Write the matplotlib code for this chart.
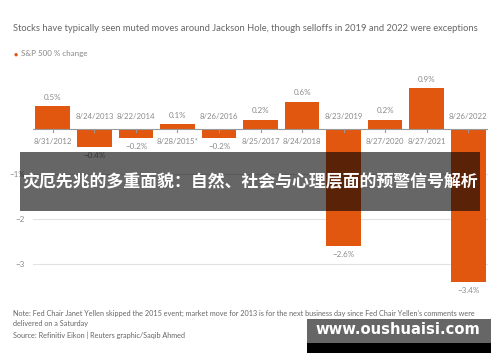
import matplotlib
matplotlib.use("Agg")
import matplotlib.pyplot as plt
from matplotlib.patches import Rectangle

dates = ["8/31/2012", "8/24/2013", "8/22/2014", "8/28/2015*", "8/26/2016",
         "8/25/2017", "8/24/2018", "8/23/2019", "8/27/2020", "8/27/2021", "8/26/2022"]
changes = [0.5, -0.4, -0.2, 0.1, -0.2, 0.2, 0.6, -2.6, 0.2, 0.9, -3.4]
value_labels = ["0.5%", "\u22120.4%", "\u22120.2%", "0.1%", "\u22120.2%", "0.2%",
                "0.6%", "\u22122.6%", "0.2%", "0.9%", "\u22123.4%"]
yticks = [-1, -2, -3]
ytick_labels = ["\u22121%", "\u22122", "\u22123"]

title = "Stocks have typically seen muted moves around Jackson Hole, though selloffs in 2019 and 2022 were exceptions"
legend_label = "S&P 500 % change"
note1 = "Note: Fed Chair Janet Yellen skipped the 2015 event; market move for 2013 is for the next business day since Fed Chair Yellen's comments were"
note2 = "delivered on a Saturday"
source = "Source: Refinitiv Eikon | Reuters graphic/Saqib Ahmed"
banner = "灾厄先兆的多重面貌：自然、社会与心理层面的预警信号解析"
watermark = "www.oushuaisi.com"

ORANGE = "#e2570f"
GREY = "#8a8a8a"

plt.rcParams['font.family'] = ['Lato', 'DejaVu Sans']

fig = plt.figure(figsize=(5.0, 3.62), dpi=100)
ax = fig.add_axes([0.066, 0.185, 0.91, 0.622])

x = list(range(len(changes)))
ax.bar(x, changes, width=0.84, color=ORANGE, zorder=2)
ax.set_xlim(-0.48, 10.48)
ax.set_ylim(-3.69, 1.31)

for yv in yticks:
    ax.axhline(yv, color="#e2e2e2", lw=0.8, zorder=1)
ax.axhline(0, color="#999999", lw=0.8, zorder=3)

for xi, v, d, vl in zip(x, changes, dates, value_labels):
    ax.plot([xi, xi], [0, -0.06], color="#999999", lw=0.8, zorder=3)
    if v >= 0:
        ax.text(xi, v + 0.12, vl, ha="center", va="bottom", fontsize=5.8, color=GREY)
        ax.text(xi, -0.2, d, ha="center", va="top", fontsize=5.6, color=GREY)
    else:
        ax.text(xi, v - 0.12, vl, ha="center", va="top", fontsize=5.8, color=GREY)
        ax.text(xi, 0.2, d, ha="center", va="bottom", fontsize=5.6, color=GREY)

ax.set_yticks(yticks)
ax.set_yticklabels(ytick_labels, fontsize=5.8, color=GREY)
ax.tick_params(axis="y", length=0, pad=6)
ax.set_xticks([])
for s in ax.spines.values():
    s.set_visible(False)

fig.text(0.026, 0.920, title, fontsize=6.75, color="#666666", va="center")
fig.text(0.032, 0.851, "\u25CF", fontsize=5, color=ORANGE, va="center", ha="center")
fig.text(0.042, 0.851, legend_label, fontsize=5.8, color="#888888", va="center")

fig.text(0.026, 0.135, note1, fontsize=5.2, color="#666666", va="center")
fig.text(0.026, 0.107, note2, fontsize=5.2, color="#666666", va="center")
fig.text(0.026, 0.075, source, fontsize=5.2, color="#666666", va="center")

# overlay banner
fig.patches.append(Rectangle((0.040, 0.417), 0.92, 0.163, transform=fig.transFigure,
                             facecolor="black", alpha=0.6, zorder=10))
fig.text(0.5, 0.497, banner, fontsize=12.2, color="white", fontweight="bold",
         ha="center", va="center", zorder=11,
         family=['Noto Sans CJK SC', 'DejaVu Sans'])

# watermark
fig.patches.append(Rectangle((0.614, 0.050), 0.368, 0.070, transform=fig.transFigure,
                             facecolor="#666666", zorder=10))
fig.patches.append(Rectangle((0.614, 0.025), 0.368, 0.027, transform=fig.transFigure,
                             facecolor="black", zorder=10))
fig.text(0.796, 0.090, watermark, fontsize=10.6, color="white", fontweight="bold",
         ha="center", va="center", zorder=11, family=['DejaVu Sans'])

fig.savefig("out.png", dpi=100, facecolor="white")
